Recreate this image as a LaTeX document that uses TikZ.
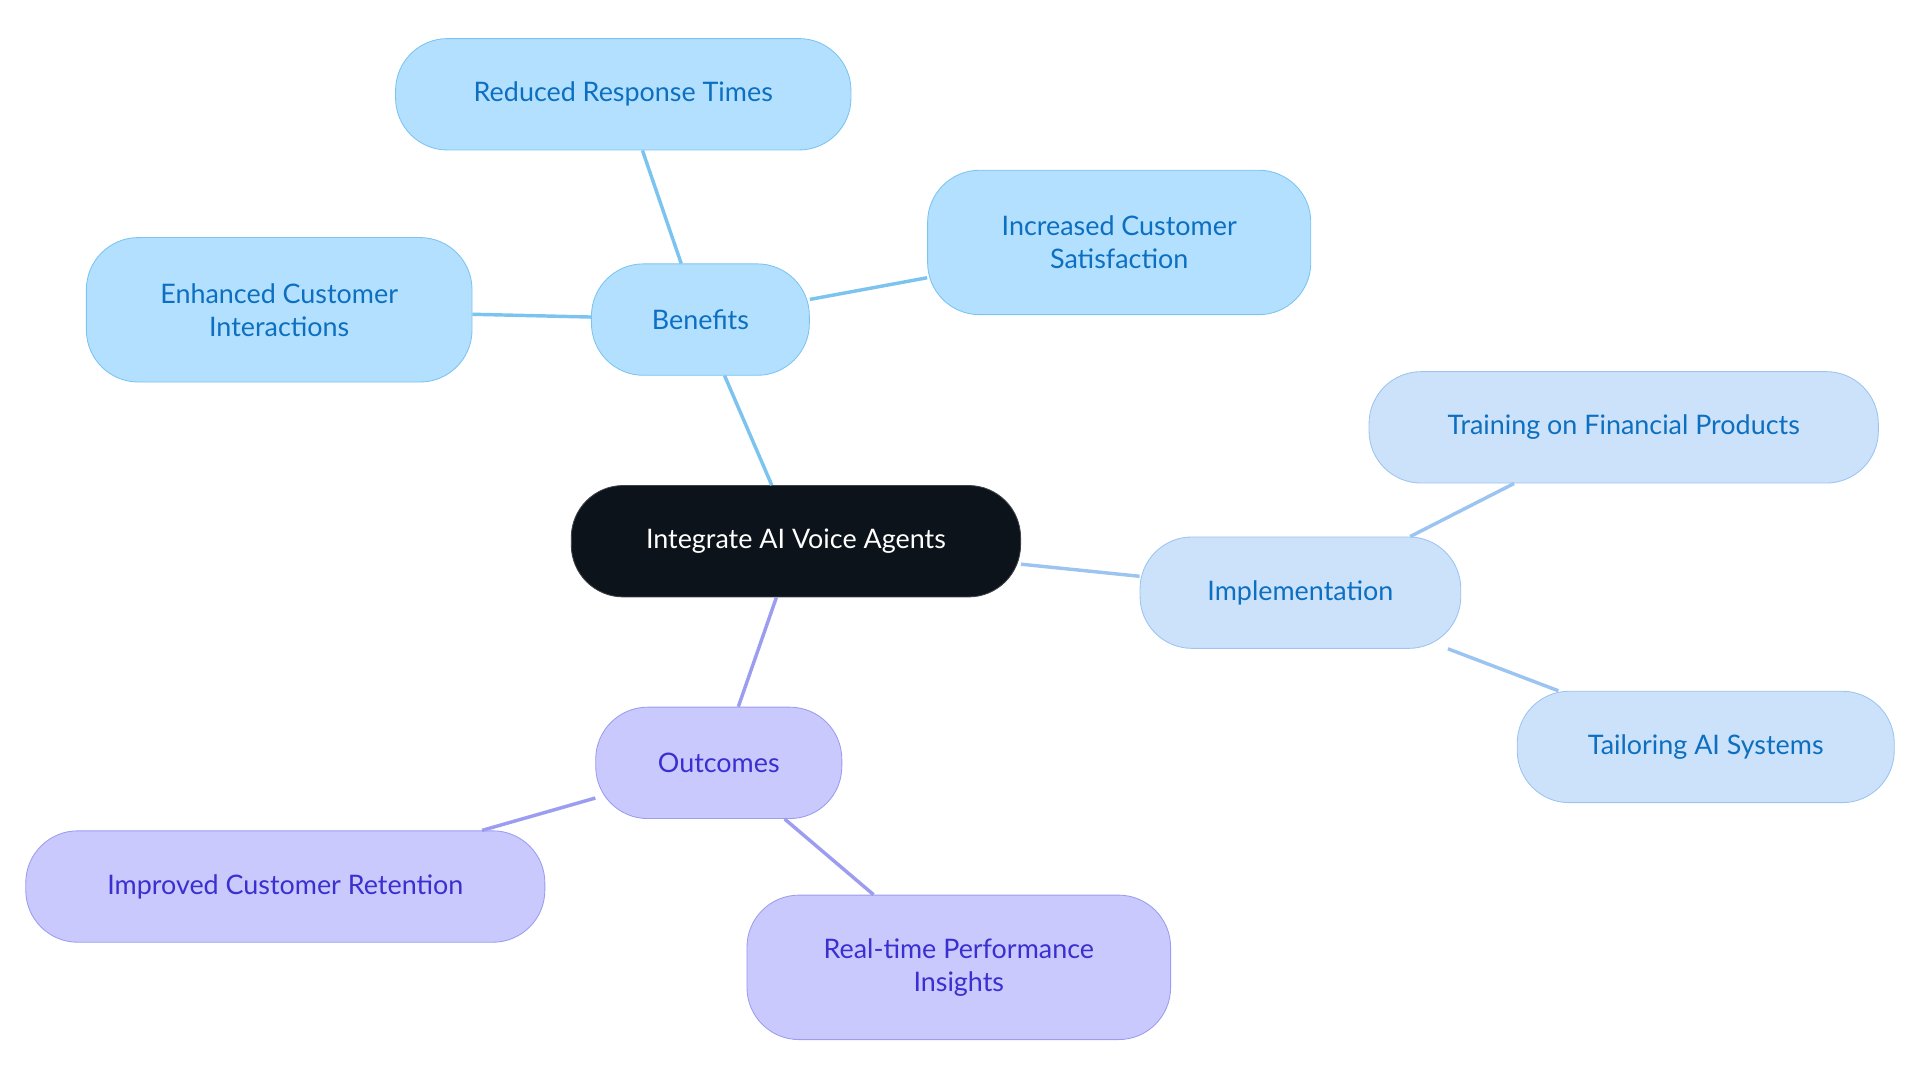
\documentclass[tikz,border=0pt]{standalone}
\usepackage{fontspec}
\setmainfont{Lato}
\usetikzlibrary{positioning}
\definecolor{rootfill}{HTML}{0D131A}
\definecolor{bfill}{HTML}{B3E0FF}
\definecolor{bdraw}{HTML}{7CC4F0}
\definecolor{btext}{HTML}{0D6FC0}
\definecolor{ifill}{HTML}{CCE2FB}
\definecolor{idraw}{HTML}{9CC4F0}
\definecolor{pfill}{HTML}{C9C9FE}
\definecolor{pdraw}{HTML}{9C9CF0}
\definecolor{ptext}{HTML}{3A2FCF}
\begin{document}
\begin{tikzpicture}[x=0.02cm,y=-0.02cm,semithick]
		% Styles for the boxes
		\tikzstyle{box}=[rounded corners=0.85cm,thin,minimum height=1.82cm,align=center,font=\fontsize{12.5}{15.3}\selectfont]
		\tikzstyle{root}=[box,fill=rootfill,draw=rootfill!80!white,text=white]
		\tikzstyle{benefit}=[box,fill=bfill,draw=bdraw,text=btext]
		\tikzstyle{impl}=[box,fill=ifill,draw=idraw,text=btext]
		\tikzstyle{outcome}=[box,fill=pfill,draw=pdraw,text=ptext]
		\tikzstyle{tall}=[minimum height=2.36cm]
		\tikzstyle{blink}=[draw=bdraw,line width=1.6pt]
		\tikzstyle{ilink}=[draw=idraw,line width=1.6pt]
		\tikzstyle{plink}=[draw=pdraw,line width=1.6pt]
		\useasboundingbox (0,0) rectangle (1568,885);
		
		% Root
		\node[root,minimum width=7.34cm] (root) at (650,442) {Integrate AI Voice Agents};
		
		% Benefits branch
		\node[benefit,minimum width=3.56cm] (ben) at (572,261) {Benefits};
		\node[benefit,minimum width=7.44cm] (resp) at (509,77) {Reduced Response Times};
		\node[benefit,tall,minimum width=6.26cm] (sat) at (914,198) {Increased Customer\\Satisfaction};
		\node[benefit,tall,minimum width=6.3cm] (inter) at (228,253) {Enhanced Customer\\Interactions};
		
		% Implementation branch
		\node[impl,minimum width=5.24cm] (impl) at (1062,484) {Implementation};
		\node[impl,minimum width=8.32cm] (train) at (1326,349) {Training on Financial Products};
		\node[impl,minimum width=6.16cm] (tail) at (1393,610) {Tailoring AI Systems};
		
		% Outcomes branch
		\node[outcome,minimum width=4.02cm] (out) at (587,623) {Outcomes};
		\node[outcome,minimum width=8.48cm] (ret) at (233,724) {Improved Customer Retention};
		\node[outcome,tall,minimum width=6.92cm] (perf) at (783,790) {Real-time Performance\\Insights};
		
		% Links
		\begin{scope}[on background layer/.style={}]
		\draw[blink] (root) -- (ben);
		\draw[blink] (ben) -- (resp);
		\draw[blink] (ben) -- (sat);
		\draw[blink] (ben) -- (inter);
		\draw[ilink] (root) -- (impl);
		\draw[ilink] (impl) -- (train);
		\draw[ilink] (impl) -- (tail);
		\draw[plink] (root) -- (out);
		\draw[plink] (out) -- (ret);
		\draw[plink] (out) -- (perf);
		\end{scope}
	\end{tikzpicture}
\end{document}
